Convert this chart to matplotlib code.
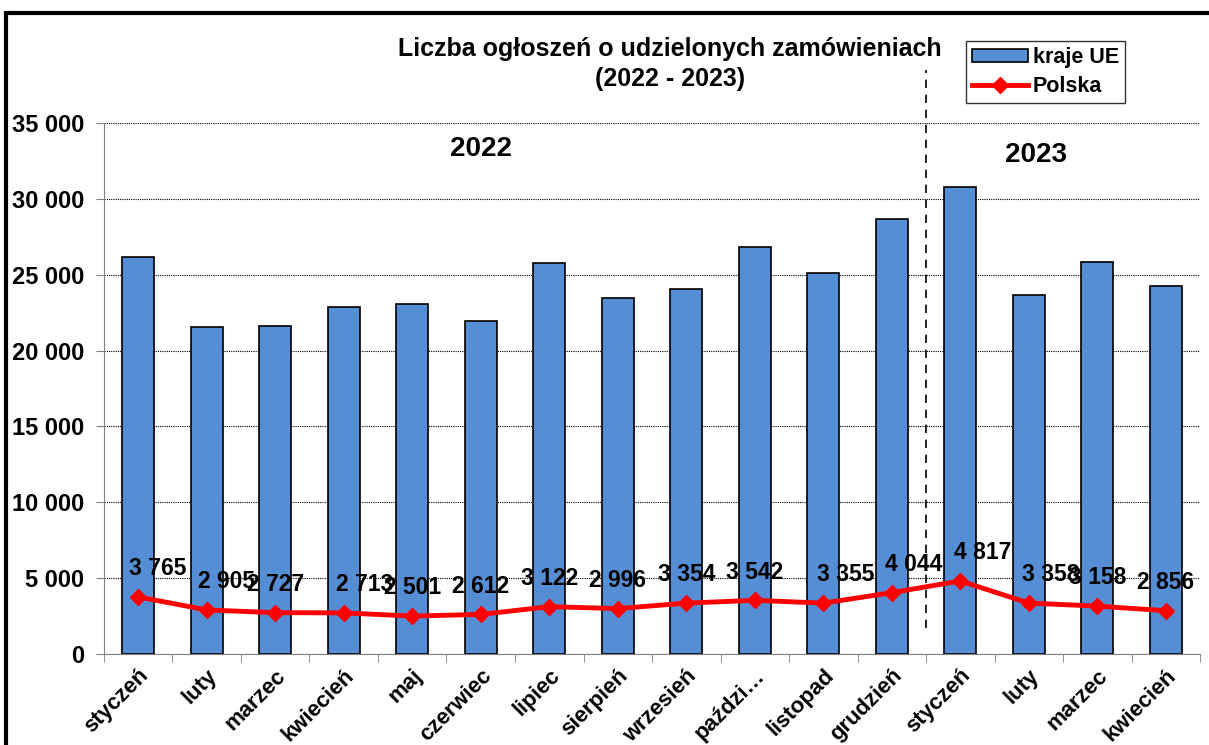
import numpy as np
import matplotlib.pyplot as plt
from matplotlib.patches import Rectangle

plt.rcParams['font.family'] = ['Liberation Sans', 'DejaVu Sans']
plt.rcParams['font.weight'] = 'bold'

months = ["styczeń", "luty", "marzec", "kwiecień", "maj", "czerwiec", "lipiec",
          "sierpień", "wrzesień", "paździ…", "listopad", "grudzień",
          "styczeń", "luty", "marzec", "kwiecień"]
eu = [26150, 21550, 21620, 22870, 23070, 21950, 25770, 23470, 24060, 26830,
      25120, 28680, 30780, 23670, 25840, 24260]
polska = [3765, 2905, 2727, 2713, 2501, 2612, 3122, 2996, 3354, 3542, 3355,
          4044, 4817, 3358, 3158, 2856]
yticks = [0, 5000, 10000, 15000, 20000, 25000, 30000, 35000]

# horizontal shift of each data label (points), as placed in the original
label_dx = [14, 14, 0, 15, 0, 0, 0, 0, 0, 0, 16, 16, 16, 16, 0, 0]


def fmt(v):
    return f"{v:,}".replace(",", " ")


fig = plt.figure(figsize=(12.09, 7.45), dpi=100)
ax = fig.add_axes([0.086, 0.1221, 0.9066, 0.7129])

x = np.arange(len(months))
bars = ax.bar(x, eu, width=0.47, color="#558ED5", edgecolor="black", linewidth=1.2,
              zorder=2, label="kraje UE")
line, = ax.plot(x, polska, color="red", linewidth=3.5, marker="D", markersize=8,
                zorder=3, label="Polska")

for xi, v, dx in zip(x, polska, label_dx):
    ax.annotate(fmt(v), (xi, v), xytext=(dx, 12), textcoords="offset points",
                ha="center", va="bottom", fontsize=16.5, fontweight="bold",
                zorder=5)

ax.set_xlim(-0.5, len(months) - 0.5)
ax.set_ylim(0, 35000)
ax.set_yticks(yticks)
ax.set_yticklabels([fmt(v) for v in yticks], fontsize=17, fontweight="bold")
ax.yaxis.grid(True, color="black", linestyle=(0, (1, 1)), linewidth=0.8, zorder=0)
ax.set_axisbelow(True)

ax.set_xticks(x)
ax.set_xticklabels(months, rotation=45, ha="right", rotation_mode="anchor",
                   fontsize=16, fontweight="bold")
ax.tick_params(axis="x", length=0, pad=8)
ax.set_xticks(np.arange(-0.5, len(months)), minor=True)
ax.tick_params(axis="x", which="minor", length=6, color="gray")
ax.tick_params(axis="y", length=6, color="gray", pad=8)

for s in ["top", "right"]:
    ax.spines[s].set_visible(False)
ax.spines["left"].set_color("gray")
ax.spines["bottom"].set_color("gray")

# separator between years
ax.plot([11.5, 11.5], [1700, 38500], color="black", linestyle=(0, (5, 4)),
        linewidth=1.2, clip_on=False, zorder=4)

ax.text(5, 33300, "2022", ha="center", va="center", fontsize=20, fontweight="bold")
ax.text(13.1, 32900, "2023", ha="center", va="center", fontsize=20, fontweight="bold")

fig.text(0.554, 0.914, "Liczba ogłoszeń o udzielonych zamówieniach\n(2022 - 2023)",
         ha="center", va="center", fontsize=18, fontweight="bold",
         linespacing=1.3)

leg = fig.legend([bars, line], ["kraje UE", "Polska"], loc="upper left",
                 bbox_to_anchor=(0.799, 0.945), frameon=True,
                 fancybox=False, edgecolor="black", fontsize=15.5,
                 handlelength=2.6, handleheight=0.55, handletextpad=0.2,
                 borderpad=0.3, labelspacing=0.35, borderaxespad=0)
leg.get_frame().set_linewidth(1.0)

# outer frame
fig.patches.append(Rectangle((0.005, -0.05), 1.2, 1.033, transform=fig.transFigure,
                             fill=False, edgecolor="black", linewidth=3))

fig.savefig("out.png", dpi=100)
